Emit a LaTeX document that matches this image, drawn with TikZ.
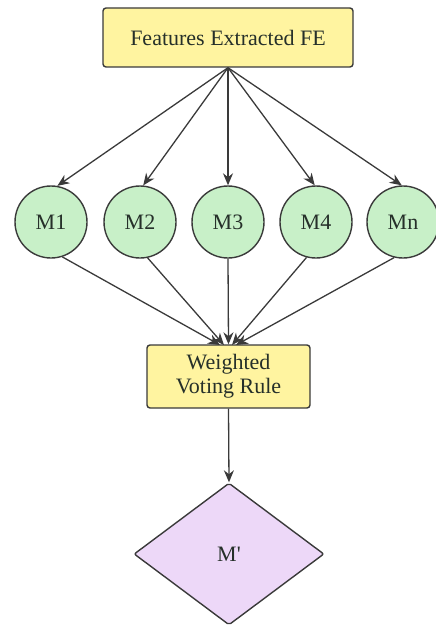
\documentclass[tikz,border=0pt]{standalone}
\usepackage{fontspec}
\setmainfont{Liberation Serif}
\usetikzlibrary{shapes.geometric,arrows.meta}
\definecolor{boxfill}{HTML}{FFF4A0}
\definecolor{circfill}{HTML}{C8F0C8}
\definecolor{diafill}{HTML}{EDD8F8}
\definecolor{edge}{HTML}{3A3A3A}
\definecolor{ink}{HTML}{26302A}
\tikzset{
  base/.style={draw=edge, line width=1.4pt, text=ink, font=\fontsize{22}{24}\selectfont, inner sep=0pt},
  rectbox/.style={base, fill=boxfill, rounded corners=3pt, align=center},
  model/.style={base, fill=circfill, circle, minimum size=72pt},
  decision/.style={base, fill=diafill, diamond, minimum width=190pt, minimum height=142pt, rounded corners=2pt},
  link/.style={draw=edge, line width=1.3pt, -{Stealth[length=12pt,width=10pt]}}
}
\begin{document}
\begin{tikzpicture}[x=1pt,y=-1pt]
  \useasboundingbox (0,0) rectangle (436,626);
  \node[rectbox, minimum width=250pt, minimum height=59pt] (fe) at (228,37.5) {Features Extracted FE};
  \node[model] (m1) at (51,222) {M1};
  \node[model] (m2) at (140,222) {M2};
  \node[model] (m3) at (228,222) {M3};
  \node[model] (m4) at (316,222) {M4};
  \node[model] (m5) at (403,222) {Mn};
  \node[rectbox, minimum width=163pt, minimum height=63pt] (wv) at (228.5,376.5) {Weighted\\Voting Rule};
  \node[decision] (mp) at (229,554) {M\textquotesingle};
  % fan-out from the feature box
  \draw[link] (fe.south) -- (m1.80);
  \draw[link] (fe.south) -- (m2.85);
  \draw[link] (fe.south) -- (m3.north);
  \draw[link] (fe.south) -- (m4.92);
  \draw[link] (fe.south) -- (m5.92);
  % fan-in to the voting rule
  \coordinate (t1) at (220,345);
  \coordinate (t2) at (224,345);
  \coordinate (t4) at (232,345);
  \coordinate (t5) at (236,345);
  \draw[link] (m1.-72) -- (t1);
  \draw[link] (m2.-78) -- (t2);
  \draw[link] (m3.south) -- (wv.north);
  \draw[link] (m4.-105) -- (t4);
  \draw[link] (m5.-104) -- (t5);
  \draw[link] (wv.south) -- (mp.north);
\end{tikzpicture}
\end{document}
